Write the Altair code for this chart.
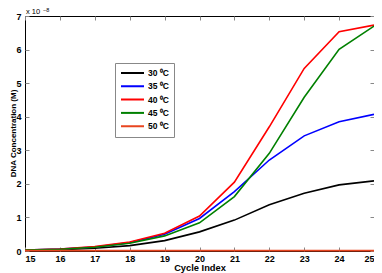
import altair as alt
import pandas as pd

cycles = [15, 16, 17, 18, 19, 20, 21, 22, 23, 24, 25]
series_names = ["30 \u2070C", "35 \u2070C", "40 \u2070C", "45 \u2070C", "50 \u2070C"]
series_colors = ["#000000", "#0000ff", "#ff0000", "#008000", "#e8451f"]

c30 = [0.02, 0.04, 0.08, 0.16, 0.31, 0.57, 0.92, 1.38, 1.72, 1.97, 2.09]
c35 = [0.03, 0.06, 0.12, 0.25, 0.50, 0.97, 1.77, 2.71, 3.43, 3.85, 4.07]
c40 = [0.03, 0.06, 0.13, 0.27, 0.53, 1.04, 2.05, 3.70, 5.44, 6.53, 6.73]
c45 = [0.03, 0.05, 0.11, 0.23, 0.45, 0.84, 1.62, 2.91, 4.58, 6.01, 6.70]
c50 = [0.01, 0.01, 0.01, 0.01, 0.01, 0.01, 0.01, 0.01, 0.01, 0.01, 0.01]

y_ticks = [0, 1, 2, 3, 4, 5, 6, 7]
exponent_base = ["x 10"]
exponent_power = ["\u22128"]

rows = []
for name, vals in zip(series_names, [c30, c35, c40, c45, c50]):
    for c, v in zip(cycles, vals):
        rows.append({"cycle": c, "conc": v, "series": name})
df = pd.DataFrame(rows)

FONT = "Liberation Sans"
xs = alt.Scale(domain=[15, 25], nice=False)
ys = alt.Scale(domain=[0, 7], nice=False)

lines = alt.Chart(df).mark_line(strokeWidth=1.6).encode(
    x=alt.X("cycle:Q", scale=xs, axis=alt.Axis(
        title="Cycle Index", values=cycles, format="d", tickSize=0, domain=False,
        grid=False, labelPadding=3, titlePadding=0, titleFontSize=9.3)),
    y=alt.Y("conc:Q", scale=ys, axis=alt.Axis(
        title="DNA Concentration (M)", values=y_ticks, format="d", tickSize=0,
        domain=False, grid=False, labelPadding=4, titleX=-12, titleY=117,
        titleAngle=270, titleBaseline="middle", titleAlign="center", titleFontSize=8)),
    color=alt.Color("series:N", scale=alt.Scale(domain=series_names, range=series_colors),
                    legend=alt.Legend(
                        title=None, orient="none", legendX=90, legendY=47,
                        strokeColor="#888888", fillColor="white", padding=5,
                        symbolType="stroke", symbolStrokeWidth=2, symbolSize=529,
                        clipHeight=10, labelFont=FONT, labelFontSize=8.5,
                        labelFontWeight="bold", labelColor="#000000", rowPadding=3.3,
                        labelOffset=3)),
)


def tick_layer(xo, yo):
    return alt.Chart(df).mark_line(opacity=0).encode(
        x=alt.X("cycle:Q", scale=xs, axis=alt.Axis(
            orient=xo, offset=-4, tickSize=4, labels=False, domain=False, grid=False,
            title=None, values=cycles, tickColor="#888888")),
        y=alt.Y("conc:Q", scale=ys, axis=alt.Axis(
            orient=yo, offset=-4, tickSize=4, labels=False, domain=False, grid=False,
            title=None, values=y_ticks, tickColor="#888888")),
        detail="series:N",
    )


exp_base = alt.Chart(pd.DataFrame({"t": exponent_base})).mark_text(
    align="left", baseline="alphabetic", font=FONT, fontSize=7.5, color="#000000"
).encode(x=alt.value(1), y=alt.value(-2.5), text="t:N")

exp_power = alt.Chart(pd.DataFrame({"t": exponent_power})).mark_text(
    align="left", baseline="top", font=FONT, fontSize=5.5, color="#000000"
).encode(x=alt.value(18), y=alt.value(-8), text="t:N")

chart = alt.layer(
    tick_layer("bottom", "left"), tick_layer("top", "right"), lines, exp_base, exp_power
).resolve_axis(
    x="independent", y="independent"
).properties(
    width=349, height=235,
    autosize=alt.AutoSizeParams(type="none"),
    padding={"left": 17, "top": 8, "right": 0, "bottom": 22},
).configure_view(stroke="#000000", strokeWidth=1).configure_axis(
    labelFont=FONT, labelFontSize=9, labelFontWeight="bold", labelColor="#000000",
    titleFont=FONT, titleFontWeight="bold", titleColor="#000000",
)

chart.save("out.html", embed_options={"renderer": "svg", "actions": False})
